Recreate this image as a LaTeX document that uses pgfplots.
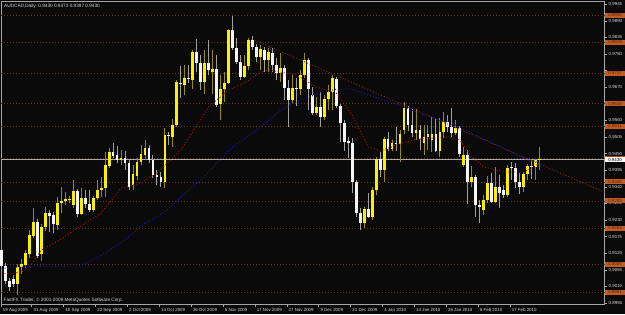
\documentclass[border=0pt]{standalone}
\usepackage{pgfplots}
\pgfplotsset{compat=1.18}
\usepackage{pgfplotstable}
\usepackage{fontspec}
\setmainfont{Liberation Sans}
\definecolor{bgc}{RGB}{10,10,10}
\definecolor{framec}{RGB}{165,165,165}
\definecolor{labc}{RGB}{215,215,215}
\definecolor{bullbody}{RGB}{250,240,0}
\definecolor{bearbody}{RGB}{245,245,245}
\definecolor{bullwick}{RGB}{150,140,10}
\definecolor{bearwick}{RGB}{160,160,160}
\definecolor{redma}{RGB}{175,15,15}
\definecolor{bluema}{RGB}{25,25,185}
\definecolor{trendc}{RGB}{120,42,25}
\definecolor{levelc}{RGB}{110,50,20}
\definecolor{orangelab}{RGB}{190,92,38}
\definecolor{orangetxt}{RGB}{95,35,5}
\definecolor{pricec}{RGB}{170,170,170}

\pgfplotstableread{
i o h l c
0 0.9131 0.9141 0.9064 0.9077
1 0.9077 0.9087 0.9018 0.9028
2 0.9028 0.9037 0.8995 0.9008
3 0.9034 0.9047 0.9008 0.9018
4 0.9018 0.9084 0.8981 0.9074
5 0.9074 0.9101 0.9051 0.9084
6 0.9080 0.9131 0.9070 0.9121
7 0.9118 0.9197 0.9104 0.9180
8 0.9177 0.9269 0.9170 0.9223
9 0.9223 0.9233 0.9104 0.9111
10 0.9118 0.9217 0.9094 0.9207
11 0.9207 0.9273 0.9194 0.9253
12 0.9253 0.9263 0.9190 0.9243
13 0.9246 0.9256 0.9187 0.9217
14 0.9213 0.9306 0.9197 0.9286
15 0.9286 0.9340 0.9253 0.9293
16 0.9293 0.9322 0.9279 0.9299
17 0.9296 0.9309 0.9286 0.9299
18 0.9279 0.9363 0.9269 0.9326
19 0.9326 0.9333 0.9240 0.9250
20 0.9250 0.9336 0.9246 0.9302
21 0.9302 0.9329 0.9269 0.9283
22 0.9283 0.9329 0.9256 0.9263
23 0.9263 0.9309 0.9256 0.9302
24 0.9302 0.9363 0.9296 0.9329
25 0.9329 0.9373 0.9306 0.9336
26 0.9336 0.9455 0.9306 0.9412
27 0.9409 0.9468 0.9402 0.9455
28 0.9455 0.9485 0.9435 0.9442
29 0.9445 0.9475 0.9419 0.9429
30 0.9429 0.9462 0.9412 0.9435
31 0.9435 0.9459 0.9396 0.9419
32 0.9419 0.9429 0.9329 0.9340
33 0.9346 0.9412 0.9329 0.9383
34 0.9376 0.9435 0.9363 0.9422
35 0.9422 0.9478 0.9412 0.9449
36 0.9445 0.9495 0.9435 0.9468
37 0.9468 0.9478 0.9419 0.9429
38 0.9429 0.9445 0.9369 0.9379
39 0.9379 0.9396 0.9346 0.9373
40 0.9373 0.9389 0.9340 0.9356
41 0.9356 0.9534 0.9336 0.9511
42 0.9511 0.9521 0.9478 0.9508
43 0.9505 0.9564 0.9472 0.9544
44 0.9544 0.9694 0.9538 0.9687
45 0.9684 0.9740 0.9634 0.9681
46 0.9677 0.9743 0.9644 0.9700
47 0.9700 0.9743 0.9684 0.9697
48 0.9694 0.9793 0.9664 0.9786
49 0.9786 0.9830 0.9720 0.9750
50 0.9750 0.9776 0.9661 0.9687
51 0.9687 0.9793 0.9648 0.9750
52 0.9750 0.9826 0.9710 0.9727
53 0.9720 0.9793 0.9648 0.9730
54 0.9730 0.9776 0.9605 0.9611
55 0.9615 0.9710 0.9561 0.9664
56 0.9664 0.9720 0.9621 0.9684
57 0.9684 0.9863 0.9681 0.9860
58 0.9860 0.9906 0.9793 0.9799
59 0.9799 0.9833 0.9747 0.9753
60 0.9753 0.9776 0.9694 0.9704
61 0.9704 0.9776 0.9700 0.9740
62 0.9740 0.9833 0.9727 0.9826
63 0.9826 0.9840 0.9793 0.9803
64 0.9803 0.9813 0.9753 0.9770
65 0.9770 0.9809 0.9727 0.9796
66 0.9793 0.9803 0.9720 0.9760
67 0.9760 0.9799 0.9720 0.9786
68 0.9783 0.9799 0.9720 0.9743
69 0.9743 0.9766 0.9694 0.9717
70 0.9717 0.9783 0.9687 0.9733
71 0.9733 0.9743 0.9628 0.9667
72 0.9667 0.9694 0.9538 0.9628
73 0.9628 0.9710 0.9618 0.9667
74 0.9667 0.9700 0.9608 0.9664
75 0.9664 0.9727 0.9644 0.9710
76 0.9710 0.9783 0.9700 0.9760
77 0.9760 0.9766 0.9594 0.9664
78 0.9644 0.9671 0.9577 0.9584
79 0.9584 0.9638 0.9577 0.9605
80 0.9605 0.9654 0.9538 0.9571
81 0.9571 0.9644 0.9561 0.9631
82 0.9631 0.9677 0.9594 0.9654
83 0.9654 0.9710 0.9594 0.9700
84 0.9697 0.9704 0.9601 0.9608
85 0.9608 0.9615 0.9488 0.9551
86 0.9551 0.9561 0.9459 0.9488
87 0.9492 0.9505 0.9435 0.9485
88 0.9485 0.9501 0.9319 0.9356
89 0.9356 0.9363 0.9240 0.9253
90 0.9253 0.9269 0.9197 0.9220
91 0.9220 0.9273 0.9203 0.9266
92 0.9266 0.9319 0.9236 0.9240
93 0.9240 0.9340 0.9230 0.9329
94 0.9329 0.9439 0.9312 0.9432
95 0.9432 0.9455 0.9373 0.9396
96 0.9396 0.9505 0.9356 0.9498
97 0.9498 0.9521 0.9459 0.9465
98 0.9465 0.9495 0.9459 0.9485
99 0.9485 0.9538 0.9459 0.9482
100 0.9482 0.9528 0.9422 0.9515
101 0.9528 0.9621 0.9515 0.9601
102 0.9601 0.9608 0.9525 0.9544
103 0.9544 0.9598 0.9505 0.9518
104 0.9518 0.9598 0.9495 0.9528
105 0.9528 0.9544 0.9462 0.9498
106 0.9485 0.9544 0.9445 0.9505
107 0.9505 0.9544 0.9462 0.9515
108 0.9495 0.9571 0.9455 0.9515
109 0.9515 0.9567 0.9455 0.9459
110 0.9459 0.9567 0.9439 0.9521
111 0.9521 0.9587 0.9501 0.9554
112 0.9554 0.9577 0.9521 0.9538
113 0.9538 0.9601 0.9505 0.9518
114 0.9518 0.9561 0.9511 0.9534
115 0.9534 0.9541 0.9439 0.9449
116 0.9412 0.9472 0.9406 0.9445
117 0.9445 0.9462 0.9283 0.9356
118 0.9356 0.9409 0.9340 0.9373
119 0.9373 0.9379 0.9240 0.9279
120 0.9279 0.9296 0.9220 0.9273
121 0.9263 0.9312 0.9246 0.9296
122 0.9296 0.9376 0.9286 0.9353
123 0.9353 0.9386 0.9286 0.9289
124 0.9289 0.9406 0.9286 0.9340
125 0.9340 0.9379 0.9269 0.9319
126 0.9329 0.9346 0.9302 0.9312
127 0.9312 0.9412 0.9306 0.9402
128 0.9406 0.9422 0.9363 0.9402
129 0.9402 0.9419 0.9336 0.9356
130 0.9356 0.9386 0.9316 0.9340
131 0.9340 0.9389 0.9322 0.9383
132 0.9383 0.9416 0.9363 0.9409
133 0.9409 0.9432 0.9366 0.9406
134 0.9406 0.9432 0.9363 0.9430
135 0.9430 0.9473 0.9397 0.9430
}\candles

\begin{document}
\begin{tikzpicture}
\fill[bgc] (-1pt,-10pt) rectangle (624pt,304pt);
\begin{axis}[
  at={(0pt,0pt)}, anchor=south west,
  scale only axis, width=603.5pt, height=303pt,
  xmin=-0.125, xmax=151.3, ymin=0.89517, ymax=0.99557,
  clip=false,
  axis line style={draw=framec, line width=0.8pt},
  scaled y ticks=false,
  ytick={0.8955,0.9010,0.9065,0.9120,0.9175,0.9230,0.9285,0.9340,0.9395,0.9450,0.9505,0.9560,0.9615,0.9670,0.9725,0.9780,0.9835,0.9890,0.9945},
  yticklabels={0.8955,0.9010,0.9065,0.9120,0.9175,0.9230,0.9285,0.9340,0.9395,0.9450,0.9505,0.9560,0.9615,0.9670,{},0.9780,0.9835,0.9890,0.9945},
  ytick pos=right, yticklabel pos=right,
  xtick={-0.1,7.6,15.6,23.6,31.6,39.6,47.6,55.6,63.6,71.6,79.6,87.6,95.6,103.6,111.6,119.6,127.6},
  xticklabels={19 Aug 2009,31 Aug 2009,10 Sep 2009,22 Sep 2009,2 Oct 2009,14 Oct 2009,26 Oct 2009,5 Nov 2009,17 Nov 2009,27 Nov 2009,9 Dec 2009,21 Dec 2009,4 Jan 2010,14 Jan 2010,26 Jan 2010,5 Feb 2010,17 Feb 2010},
  xtick pos=bottom,
  tick align=outside, major tick length=2.5pt,
  tick style={draw=framec, line width=0.6pt},
  yticklabel style={font=\fontsize{4.4}{5}\selectfont, text=labc, anchor=west, inner sep=0pt, xshift=1.5pt},
  xticklabel style={font=\fontsize{4.4}{5}\selectfont, text=labc, anchor=north west, inner sep=0pt, xshift=1.6pt, yshift=-1.8pt},
]
% horizontal levels
\pgfplotsinvokeforeach{0.9909,0.9819,0.9717,0.9615,0.9541,0.9435,0.9356,0.9293,0.9203,0.9084,0.8991}{
  \addplot[levelc, line width=0.8pt, dash pattern=on 1pt off 2pt, forget plot] coordinates {(-0.125,#1) (151.3,#1)};
}
% current price line
\addplot[pricec, line width=0.8pt, forget plot] coordinates {(-0.125,0.9430) (151.3,0.9430)};
% wicks
\addplot[draw=none, mark=none, forget plot,
  error bars/.cd, y dir=plus, y explicit, error mark=none, error bar style={draw=bullwick, line width=0.9pt}]
  table[x=i, y expr={\thisrow{c}>=\thisrow{o} ? \thisrow{l} : nan}, y error expr={\thisrow{h}-\thisrow{l}}] {\candles};
\addplot[draw=none, mark=none, forget plot,
  error bars/.cd, y dir=plus, y explicit, error mark=none, error bar style={draw=bearwick, line width=0.9pt}]
  table[x=i, y expr={\thisrow{c}<\thisrow{o} ? \thisrow{l} : nan}, y error expr={\thisrow{h}-\thisrow{l}}] {\candles};
% bodies
\addplot[draw=none, mark=none, forget plot,
  error bars/.cd, y dir=plus, y explicit, error mark=none, error bar style={draw=bullbody, line width=2.8pt}]
  table[x=i, y expr={\thisrow{c}>=\thisrow{o} ? \thisrow{o} : nan}, y error expr={max(\thisrow{c}-\thisrow{o},0.00035)}] {\candles};
\addplot[draw=none, mark=none, forget plot,
  error bars/.cd, y dir=plus, y explicit, error mark=none, error bar style={draw=bearbody, line width=2.8pt}]
  table[x=i, y expr={\thisrow{c}<\thisrow{o} ? \thisrow{c} : nan}, y error expr={max(\thisrow{o}-\thisrow{c},0.00035)}] {\candles};
% red moving average
\addplot[redma, line width=0.9pt, dash pattern=on 1pt off 2pt] coordinates {
(0,0.9051) (5,0.9057) (7,0.9074) (10,0.9131) (15,0.9167) (19,0.9203) (25,0.9253) (30,0.9336) (35,0.9353) (39,0.9386) (45,0.9462) (52,0.9605) (57,0.9661) (61,0.9684) (65,0.9720) (67,0.9727) (70,0.9720) (74,0.9710) (79,0.9671) (84,0.9651) (88,0.9577) (92,0.9472) (95,0.9459) (100,0.9482) (104,0.9498) (108,0.9501) (112,0.9505) (115,0.9495) (118,0.9439) (121,0.9406) (126,0.9389) (131,0.9389) (134,0.9409) (135,0.9419)};
% blue moving average
\addplot[bluema, line width=0.9pt, dash pattern=on 1pt off 2pt] coordinates {
(0,0.9070) (8,0.9077) (19,0.9074) (24,0.9104) (31,0.9164) (36,0.9220) (41,0.9256) (46,0.9319) (50,0.9363) (58,0.9472) (65,0.9538) (70,0.9594) (75,0.9628) (80,0.9651) (84,0.9664) (88,0.9664) (92,0.9644) (100,0.9611) (106,0.9577) (113,0.9551) (119,0.9511) (126,0.9468) (132,0.9429) (135,0.9422)};
% trend line
\addplot[trendc, line width=0.9pt, dash pattern=on 1pt off 2pt] coordinates {(63.5,0.9826) (151.3,0.9322)};
% right-hand level labels
\pgfplotsinvokeforeach{0.9909,0.9819,0.9717,0.9615,0.9541,0.9435,0.9356,0.9293,0.9203,0.9084,0.8991}{
  \node[anchor=west, fill=orangelab, text=orangetxt, inner sep=0pt, minimum height=5pt, minimum width=19.5pt, font=\fontsize{4.4}{5}\selectfont, xshift=0.6pt] at (axis cs:151.3,#1) {#1};
}
\node[anchor=west, fill=white, text=black, inner sep=0pt, minimum height=5pt, minimum width=19.5pt, font=\fontsize{4.4}{5}\selectfont, xshift=0.6pt] at (axis cs:151.3,0.9430) {0.9430};
\end{axis}
\node[anchor=north west, inner sep=0pt, text=labc, font=\fontsize{4.7}{5}\selectfont] at (3pt,300.5pt) {AUDCAD,Daily\ \ 0.9430 0.9473 0.9397 0.9430};
\node[anchor=base west, inner sep=0pt, text=labc, font=\fontsize{4.7}{5}\selectfont] at (2.5pt,2.5pt) {FastFX Trader, \textcopyright\ 2001-2008 MetaQuotes Software Corp.};
\pgfresetboundingbox
\useasboundingbox (-1pt,-10pt) rectangle (624pt,304pt);
\end{tikzpicture}
\end{document}
